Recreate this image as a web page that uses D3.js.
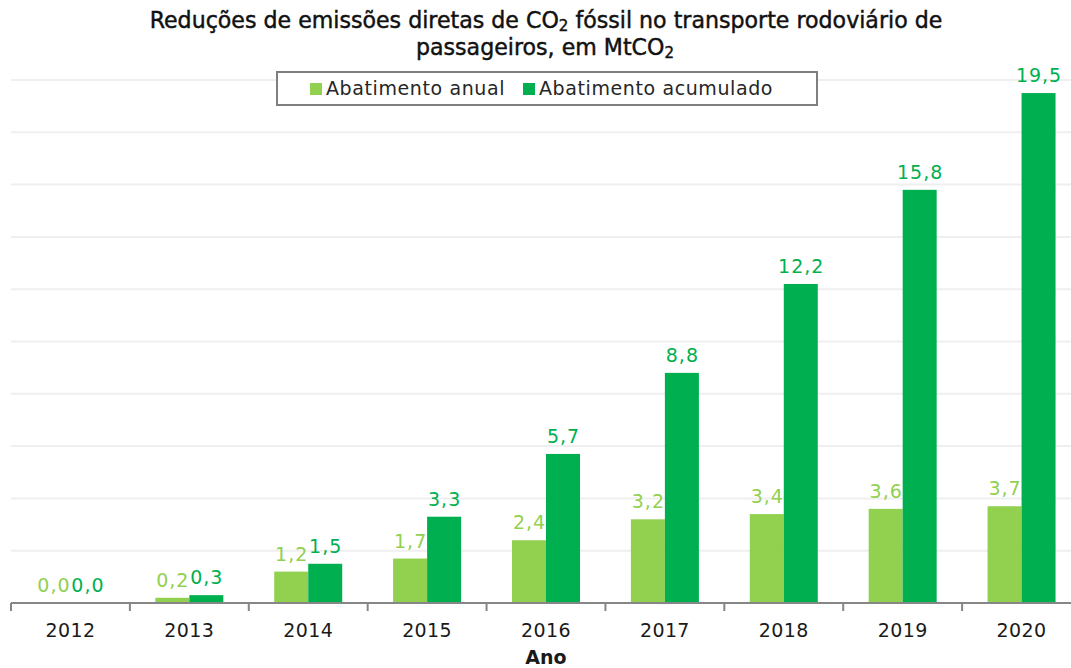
<!DOCTYPE html>
<html>
<head>
<meta charset="utf-8">
<script src="https://cdn.jsdelivr.net/npm/d3@7"></script>
<style>
  body { margin: 0; background: #fff; }
  svg { display: block; font-family: "DejaVu Sans", Verdana, sans-serif; }
</style>
</head>
<body>
<svg id="chart" width="1071" height="668"></svg>
<script>
// data
var anos = ["2012", "2013", "2014", "2015", "2016", "2017", "2018", "2019", "2020"];
var abatimentoAnual = [0.0, 0.2, 1.2, 1.7, 2.4, 3.2, 3.4, 3.6, 3.7];
var abatimentoAcumulado = [0.0, 0.3, 1.5, 3.3, 5.7, 8.8, 12.2, 15.8, 19.5];
var series = ["Abatimento anual", "Abatimento acumulado"];
var gridValues = [2, 4, 6, 8, 10, 12, 14, 16, 18, 20];

var colors = { "Abatimento anual": "#92D050", "Abatimento acumulado": "#00B050" };

var svg = d3.select("#chart");

var x = d3.scaleBand().domain(anos).range([11, 1081]).padding(0);
var sub = d3.scaleBand().domain(series).range([-34, 34]).padding(0);
var y = d3.scaleLinear().domain([0, 20]).range([603, 80]);

var fmt = function(v) { return d3.format(".1f")(v).replace(".", ","); };

// gridlines
svg.append("g").selectAll("line")
    .data(gridValues)
    .enter().append("line")
    .attr("x1", 11).attr("x2", 1081)
    .attr("y1", function(d) { return y(d); })
    .attr("y2", function(d) { return y(d); })
    .attr("stroke", "#efefef")
    .attr("stroke-width", 2);

// bars
var rows = anos.map(function(a, i) {
    return [
        { ano: a, serie: series[0], v: abatimentoAnual[i] },
        { ano: a, serie: series[1], v: abatimentoAcumulado[i] }
    ];
});

var groups = svg.append("g").selectAll("g")
    .data(rows)
    .enter().append("g")
    .attr("transform", function(d) { return "translate(" + (x(d[0].ano) + x.bandwidth() / 2) + ",0)"; });

groups.selectAll("rect")
    .data(function(d) { return d; })
    .enter().append("rect")
    .attr("x", function(d) { return sub(d.serie); })
    .attr("width", sub.bandwidth())
    .attr("y", function(d) { return y(d.v); })
    .attr("height", function(d) { return y(0) - y(d.v); })
    .attr("fill", function(d) { return colors[d.serie]; });

groups.selectAll("text")
    .data(function(d) { return d; })
    .enter().append("text")
    .attr("x", function(d) { return sub(d.serie) + sub.bandwidth() / 2 + 0.5; })
    .attr("y", function(d) { return y(d.v) - 11; })
    .attr("text-anchor", "middle")
    .attr("font-size", 19)
    .attr("letter-spacing", 1)
    .attr("fill", function(d) { return colors[d.serie]; })
    .text(function(d) { return fmt(d.v); });

// x axis
var axis = svg.append("g").attr("transform", "translate(0,603)")
    .call(d3.axisBottom(x).tickSize(0).tickPadding(0));
axis.select(".domain").remove();
axis.selectAll("text")
    .attr("y", 34).attr("dy", 0)
    .attr("font-size", 19)
    .attr("letter-spacing", 0.4)
    .attr("font-family", "DejaVu Sans, Verdana, sans-serif")
    .attr("fill", "#1a1a1a");

svg.append("line")
    .attr("x1", 11).attr("x2", 1081)
    .attr("y1", 603).attr("y2", 603)
    .attr("stroke", "#868686").attr("stroke-width", 2);

var bounds = anos.map(function(a) { return x(a); }).concat([x.range()[1]]);
svg.append("g").selectAll("line")
    .data(bounds)
    .enter().append("line")
    .attr("x1", function(d) { return d; }).attr("x2", function(d) { return d; })
    .attr("y1", 603).attr("y2", 611)
    .attr("stroke", "#868686").attr("stroke-width", 2);

svg.append("text")
    .attr("x", 546).attr("y", 664)
    .attr("text-anchor", "middle")
    .attr("font-size", 19)
    .attr("font-weight", "bold")
    .attr("fill", "#1a1a1a")
    .text("Ano");

// title, sized so the first line is as wide as in the reference
var title = svg.append("g").attr("fill", "#111").attr("stroke", "#111").attr("stroke-width", 0.45);
function drawTitle(s) {
    title.selectAll("*").remove();
    var t1 = title.append("text").attr("x", 546).attr("y", 28).attr("text-anchor", "middle").attr("font-size", s);
    t1.append("tspan").text("Reduções de emissões diretas de CO");
    t1.append("tspan").attr("font-size", s * 0.68).attr("dy", s * 0.14).text("2");
    t1.append("tspan").attr("dy", -s * 0.14).text(" fóssil no transporte rodoviário de");
    var t2 = title.append("text").attr("x", 545).attr("y", 55).attr("text-anchor", "middle").attr("font-size", s);
    t2.append("tspan").text("passageiros, em MtCO");
    t2.append("tspan").attr("font-size", s * 0.68).attr("dy", s * 0.14).text("2");
    return t1.node().getComputedTextLength();
}
var w = drawTitle(20);
drawTitle(20 * 793 / w);

// legend
var legend = svg.append("g");
legend.append("rect")
    .attr("x", 277).attr("y", 72).attr("width", 540).attr("height", 33)
    .attr("fill", "#fff").attr("stroke", "#7f7f7f").attr("stroke-width", 2);

var legendX = [310, 523];
var items = legend.selectAll("g.item")
    .data(series)
    .enter().append("g")
    .attr("class", "item")
    .attr("transform", function(d, i) { return "translate(" + legendX[i] + ",0)"; });
items.append("rect")
    .attr("x", 0).attr("y", 83).attr("width", 12).attr("height", 12)
    .attr("fill", function(d) { return colors[d]; });
items.append("text")
    .attr("x", 16).attr("y", 95)
    .attr("font-size", 19)
    .attr("letter-spacing", 0.6)
    .attr("fill", "#262626")
    .text(function(d) { return d; });
</script>
</body>
</html>
